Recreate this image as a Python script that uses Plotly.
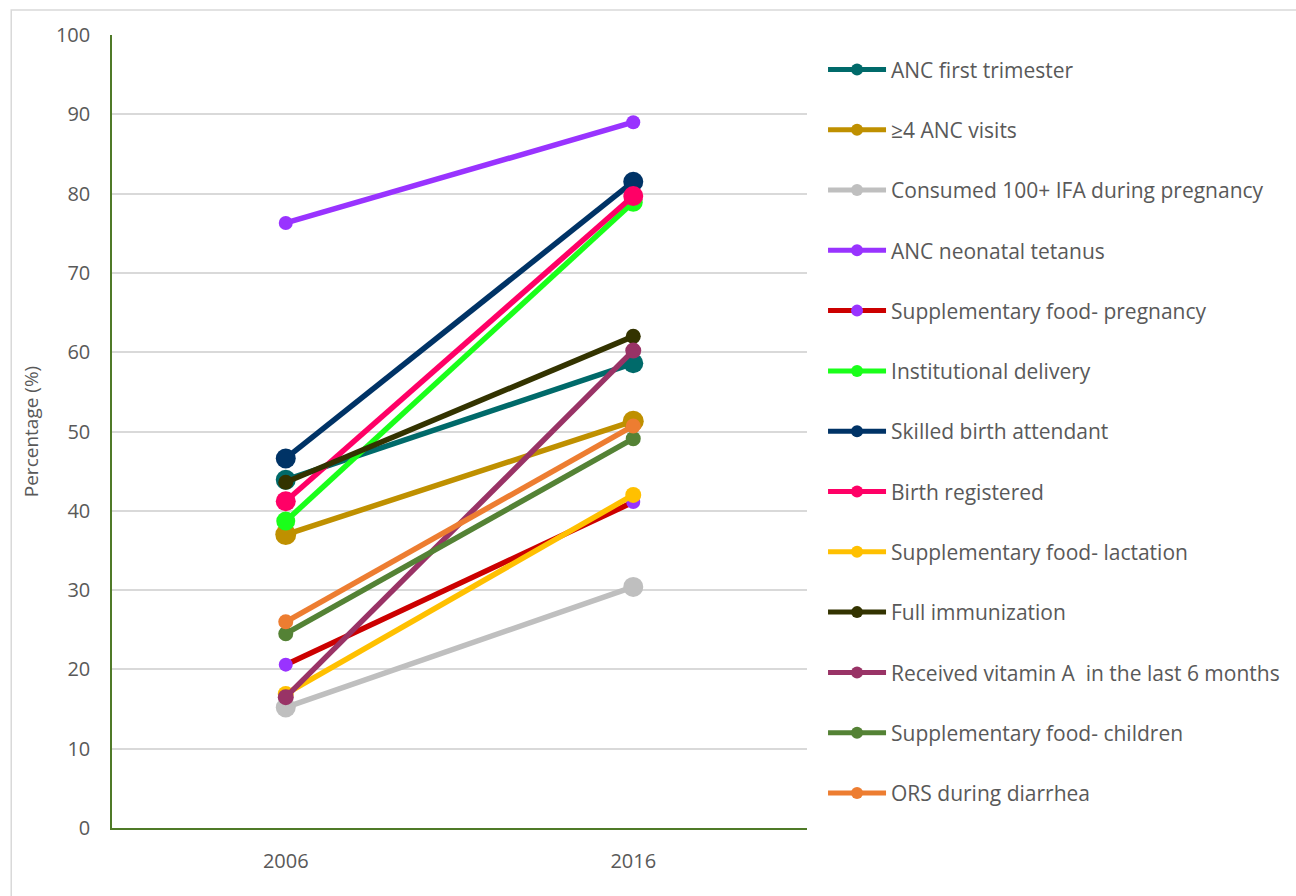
import plotly.graph_objects as go

years = ["2006", "2016"]

series_names = [
    "ANC first trimester",
    "≥4 ANC visits",
    "Consumed 100+ IFA during pregnancy",
    "ANC neonatal tetanus",
    "Supplementary food- pregnancy",
    "Institutional delivery",
    "Skilled birth attendant",
    "Birth registered",
    "Supplementary food- lactation",
    "Full immunization",
    "Received vitamin A  in the last 6 months",
    "Supplementary food- children",
    "ORS during diarrhea",
]
values_2006 = [43.9, 37.0, 15.2, 76.3, 20.6, 38.7, 46.6, 41.2, 16.9, 43.6, 16.5, 24.5, 26.0]
values_2016 = [58.6, 51.3, 30.4, 89.0, 41.1, 78.9, 81.5, 79.7, 42.0, 62.0, 60.2, 49.1, 50.7]

line_colors = ["#006a6a", "#bf9000", "#bfbfbf", "#9933ff", "#cc0000", "#1aff1a",
               "#003366", "#ff0066", "#ffc000", "#333300", "#993366", "#548235", "#ed7d31"]
marker_colors = ["#006a6a", "#bf9000", "#bfbfbf", "#9933ff", "#9933ff", "#1aff1a",
                 "#003366", "#ff0066", "#ffc000", "#333300", "#993366", "#548235", "#ed7d31"]
marker_sizes = [20, 21, 20, 14, 14, 19, 20, 20, 16, 15, 16, 15, 15]

font = "Open Sans, Liberation Sans, sans-serif"

fig = go.Figure()
for i, name in enumerate(series_names):
    fig.add_trace(go.Scatter(
        x=years,
        y=[values_2006[i], values_2016[i]],
        name=name,
        legendgroup=name,
        mode="lines+markers",
        line=dict(color=line_colors[i], width=5.5),
        marker=dict(color=marker_colors[i], size=marker_sizes[i]),
    ))

fig.update_layout(
    width=1296,
    height=896,
    paper_bgcolor="white",
    plot_bgcolor="white",
    margin=dict(l=112, r=488, t=35, b=68),
    font=dict(family=font, color="#595959", size=20),
    legend=dict(
        x=1.0216, y=0.982, xanchor="left", yanchor="top",
        tracegroupgap=30, itemwidth=58,
        font=dict(size=21, color="#595959"),
        itemsizing="constant",
    ),
    xaxis=dict(
        type="category", range=[-0.5, 1.5],
        showline=True, linecolor="#4f7a28", linewidth=1.5,
        showgrid=False, ticks="outside", ticklen=14, tickcolor="white",
        tickfont=dict(size=20),
    ),
    yaxis=dict(
        range=[0, 100], dtick=10,
        showline=True, linecolor="#4f7a28", linewidth=1.5,
        gridcolor="#d9d9d9", gridwidth=1.5, zeroline=False,
        tickfont=dict(size=20),
        ticks="outside", ticklen=16, tickcolor="white",
        title=dict(text="Percentage (%)", font=dict(size=19), standoff=12),
    ),
    shapes=[dict(
        type="rect", xref="paper", yref="paper",
        x0=-0.145, x1=1.75, y0=-0.09, y1=1.0315,
        line=dict(color="#d9d9d9", width=1.5), layer="below",
    )],
)

# drop the default page margin so the figure fills the window without scrollbars
fig.write_html(
    "out.html",
    config={"displayModeBar": False},
    post_script="document.body.style.margin='0';document.body.style.overflow='hidden';",
)
